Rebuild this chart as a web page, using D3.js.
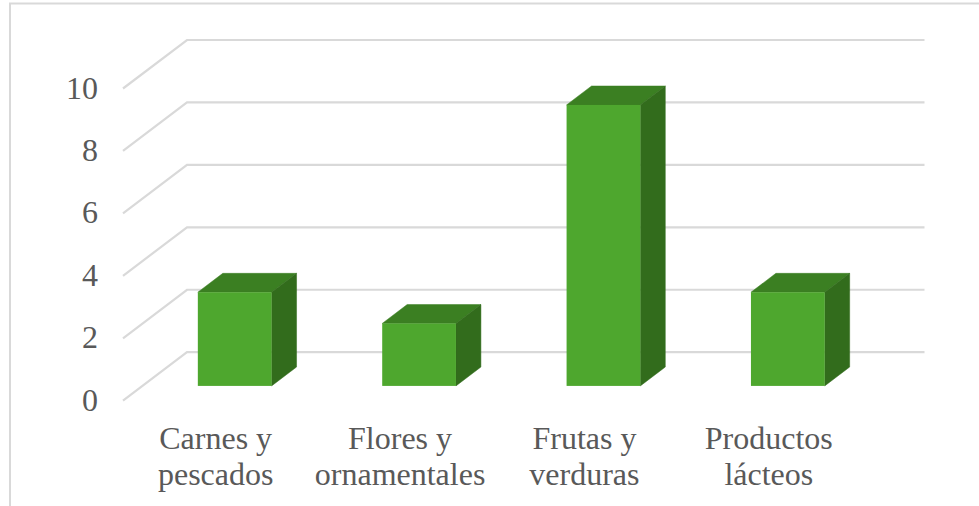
<!DOCTYPE html>
<html>
<head>
<meta charset="utf-8">
<script src="https://cdn.jsdelivr.net/npm/d3@7"></script>
<style>
    html, body { margin: 0; padding: 0; background: #fff; overflow: hidden; }
    text { font-family: "Liberation Serif", serif; fill: #595959; }
</style>
</head>
<body>
<svg id="chart" width="979" height="506"></svg>
<script>
var categories = [["Carnes y", "pescados"], ["Flores y", "ornamentales"], ["Frutas y", "verduras"], ["Productos", "lácteos"]];
var values = [3, 2, 9, 3];
var yTicks = [0, 2, 4, 6, 8, 10];

var svg = d3.select("#chart");

// chart frame, cut off by the right and bottom of the picture
svg.append("path")
    .attr("d", "M10,506V3.5H979")
    .attr("fill", "none")
    .attr("stroke", "#d9d9d9")
    .attr("stroke-width", 2);

var x = d3.scaleBand()
    .domain(d3.range(categories.length))
    .range([123, 860.5])
    .paddingInner(0);

var y = d3.scaleLinear()
    .domain([0, 10])
    .range([400.7, 88.5]);

// depth of the floor
var depthX = 64, depthY = -48.5;
// bars stand inside the floor depth
var barStart = 0.305, barDepth = 0.39;
var barW = x.bandwidth() * 0.4;

var grid = svg.append("g");
yTicks.forEach(function (t) {
    grid.append("path")
        .attr("d", d3.line()([
            [x.range()[0], y(t)],
            [x.range()[0] + depthX, y(t) + depthY],
            [x.range()[1] + depthX, y(t) + depthY]
        ]))
        .attr("fill", "none")
        .attr("stroke", "#d9d9d9")
        .attr("stroke-width", 2.2);
});

var bars = svg.append("g")
    .selectAll("g")
    .data(values)
    .enter()
    .append("g");

function barBox(d, i) {
    var left = x(i) + (x.bandwidth() - barW) / 2 + barStart * depthX;
    var shift = barStart * depthY;
    return {
        l: left,
        r: left + barW,
        t: y(d) + shift,
        b: y(0) + shift,
        dx: barDepth * depthX,
        dy: barDepth * depthY
    };
}

// top
bars.append("path")
    .attr("fill", "#3b7f22")
    .attr("stroke", "#3b7f22")
    .attr("stroke-width", 0.5)
    .attr("d", function (d, i) {
        var b = barBox(d, i);
        return d3.line()([[b.l, b.t], [b.l + b.dx, b.t + b.dy], [b.r + b.dx, b.t + b.dy], [b.r, b.t]]) + "Z";
    });

// side
bars.append("path")
    .attr("fill", "#326c1c")
    .attr("stroke", "#326c1c")
    .attr("stroke-width", 0.5)
    .attr("d", function (d, i) {
        var b = barBox(d, i);
        return d3.line()([[b.r, b.t], [b.r + b.dx, b.t + b.dy], [b.r + b.dx, b.b + b.dy], [b.r, b.b]]) + "Z";
    });

// front
bars.append("rect")
    .attr("fill", "#4ea72e")
    .attr("x", function (d, i) { return barBox(d, i).l; })
    .attr("y", function (d, i) { return barBox(d, i).t; })
    .attr("width", barW)
    .attr("height", function (d, i) { var b = barBox(d, i); return b.b - b.t; });

// value axis labels
svg.append("g")
    .selectAll("text")
    .data(yTicks)
    .enter()
    .append("text")
    .attr("x", 98)
    .attr("y", function (d) { return y(d) + 10; })
    .attr("text-anchor", "end")
    .attr("font-size", 32)
    .text(function (d) { return d; });

// category labels
var labels = svg.append("g")
    .selectAll("text")
    .data(categories)
    .enter()
    .append("text")
    .attr("text-anchor", "middle")
    .attr("font-size", 32);

labels.selectAll("tspan")
    .data(function (d, i) {
        return d.map(function (line, k) { return {line: line, k: k, i: i}; });
    })
    .enter()
    .append("tspan")
    .attr("x", function (d) { return x(d.i) + x.bandwidth() / 2 + 0.5; })
    .attr("y", function (d) { return 449 + d.k * 36; })
    .text(function (d) { return d.line; });
</script>
</body>
</html>
